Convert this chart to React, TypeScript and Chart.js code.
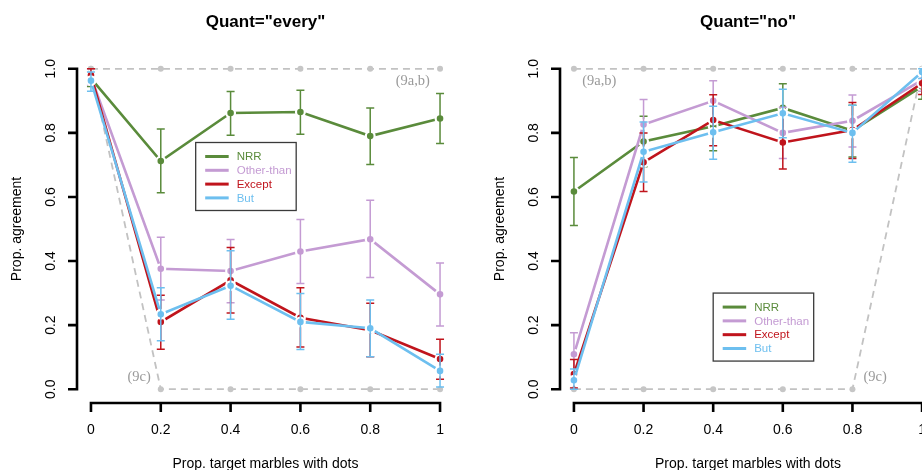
import React, { useEffect, useRef } from "react";
import { Chart, registerables } from "chart.js";
Chart.register(...registerables);

// ---------- data ----------
const xValues = [0, 0.2, 0.4, 0.6, 0.8, 1];
const xTickLabels = ["0", "0.2", "0.4", "0.6", "0.8", "1"];
const yTickValues = [0, 0.2, 0.4, 0.6, 0.8, 1];
const yTickLabels = ["0.0", "0.2", "0.4", "0.6", "0.8", "1.0"];

const seriesNames = ["NRR", "Other-than", "Except", "But"];
const seriesColors = ["#5a8b3b", "#c49bd3", "#c0141c", "#6dbfef"];

// Quant = "every"
const everyNRR = [0.97, 0.712, 0.862, 0.865, 0.79, 0.845];
const everyNRRLow = [0.945, 0.613, 0.793, 0.796, 0.701, 0.767];
const everyNRRHigh = [0.99, 0.812, 0.929, 0.933, 0.878, 0.923];
const everyOther = [0.975, 0.376, 0.369, 0.43, 0.468, 0.296];
const everyOtherLow = [0.95, 0.278, 0.27, 0.33, 0.349, 0.197];
const everyOtherHigh = [1.0, 0.474, 0.467, 0.53, 0.59, 0.394];
const everyExcept = [0.98, 0.21, 0.34, 0.223, 0.184, 0.094];
const everyExceptLow = [0.955, 0.125, 0.238, 0.132, 0.101, 0.031];
const everyExceptHigh = [1.0, 0.293, 0.442, 0.317, 0.268, 0.156];
const everyBut = [0.963, 0.234, 0.323, 0.21, 0.19, 0.057];
const everyButLow = [0.93, 0.151, 0.218, 0.124, 0.101, 0.007];
const everyButHigh = [0.99, 0.317, 0.432, 0.299, 0.278, 0.109];
const every9ab = [1, 1, 1, 1, 1, 1];
const every9c = [1, 0, 0, 0, 0, 0];

// Quant = "no"
const noNRR = [0.617, 0.773, 0.821, 0.878, 0.807, 0.945];
const noNRRLow = [0.511, 0.694, 0.744, 0.803, 0.725, 0.905];
const noNRRHigh = [0.723, 0.852, 0.898, 0.953, 0.886, 0.985];
const noOther = [0.109, 0.826, 0.9, 0.8, 0.838, 0.965];
const noOtherLow = [0.04, 0.748, 0.838, 0.72, 0.756, 0.93];
const noOtherHigh = [0.176, 0.904, 0.963, 0.88, 0.918, 1.0];
const noExcept = [0.047, 0.708, 0.84, 0.77, 0.809, 0.955];
const noExceptLow = [0.004, 0.617, 0.76, 0.687, 0.72, 0.92];
const noExceptHigh = [0.093, 0.8, 0.919, 0.853, 0.895, 0.99];
const noBut = [0.028, 0.741, 0.802, 0.861, 0.8, 0.99];
const noButLow = [0.0, 0.647, 0.718, 0.785, 0.708, 0.97];
const noButHigh = [0.063, 0.834, 0.883, 0.936, 0.886, 1.0];
const no9ab = [1, 1, 1, 1, 1, 1];
const no9c = [0, 0, 0, 0, 0, 1];

const refLabels = ["(9a,b)", "(9c)"];

const SANS = "'Liberation Sans', Arial, Helvetica, sans-serif";
const SERIF = "'Liberation Serif', 'Times New Roman', serif";

type PanelCfg = {
  title: string;
  series: number[][];
  lows: number[][];
  highs: number[][];
  refs: number[][];
  legendAt: [number, number];
  notesAt: [number, number][];
  left: number;
  width: number;
  padding: { left: number; right: number; top: number; bottom: number };
};

const panels: PanelCfg[] = [
  {
    title: 'Quant="every"',
    series: [everyNRR, everyOther, everyExcept, everyBut],
    lows: [everyNRRLow, everyOtherLow, everyExceptLow, everyButLow],
    highs: [everyNRRHigh, everyOtherHigh, everyExceptHigh, everyButHigh],
    refs: [every9ab, every9c],
    legendAt: [0.3, 0.77],
    notesAt: [
      [0.922, 0.962],
      [0.138, 0.037],
    ],
    left: 0,
    width: 461,
    padding: { left: 77, right: 7, top: 56, bottom: 68 },
  },
  {
    title: 'Quant="no"',
    series: [noNRR, noOther, noExcept, noBut],
    lows: [noNRRLow, noOtherLow, noExceptLow, noButLow],
    highs: [noNRRHigh, noOtherHigh, noExceptHigh, noButHigh],
    refs: [no9ab, no9c],
    legendAt: [0.4, 0.3],
    notesAt: [
      [0.073, 0.962],
      [0.865, 0.037],
    ],
    left: 461,
    width: 490,
    padding: { left: 99, right: 15, top: 56, bottom: 68 },
  },
];

function Panel({ cfg }: { cfg: PanelCfg }) {
  const ref = useRef<HTMLCanvasElement | null>(null);
  useEffect(() => {
    const canvas = ref.current;
    if (!canvas) return;

    const datasets: any[] = [];
    cfg.series.forEach((vals, si) => {
      datasets.push({
        label: seriesNames[si],
        data: xValues.map((x, i) => ({ x, y: vals[i] })),
        errLow: cfg.lows[si],
        errHigh: cfg.highs[si],
        borderColor: seriesColors[si],
        backgroundColor: seriesColors[si],
        borderWidth: 2.6,
        pointRadius: 4.4,
        pointBackgroundColor: seriesColors[si],
        pointBorderColor: "#ffffff",
        pointBorderWidth: 2.2,
        tension: 0,
        order: 4 - si,
      });
    });
    cfg.refs.forEach((vals, ri) => {
      datasets.push({
        label: refLabels[ri],
        data: xValues.map((x, i) => ({ x, y: vals[i] })),
        borderColor: "#c2c2c2",
        borderWidth: 1.8,
        borderDash: [7, 5],
        pointRadius: 3,
        pointBackgroundColor: "#c6c6c6",
        pointBorderWidth: 0,
        tension: 0,
        order: 10 + ri,
      });
    });

    const rPlugin = {
      id: "rstyle",
      afterDatasetDraw(chart: any, args: any) {
        const ds = chart.data.datasets[args.index];
        if (!ds.errLow) return;
        const ctx = chart.ctx;
        const xs = chart.scales.x;
        const ys = chart.scales.y;
        ctx.save();
        ctx.strokeStyle = ds.borderColor;
        ctx.lineWidth = 1.5;
        ds.data.forEach((p: any, i: number) => {
          const px = xs.getPixelForValue(p.x);
          const y1 = ys.getPixelForValue(ds.errLow[i]);
          const y2 = ys.getPixelForValue(ds.errHigh[i]);
          ctx.beginPath();
          ctx.moveTo(px, y1);
          ctx.lineTo(px, y2);
          ctx.moveTo(px - 4, y1);
          ctx.lineTo(px + 4, y1);
          ctx.moveTo(px - 4, y2);
          ctx.lineTo(px + 4, y2);
          ctx.stroke();
        });
        ctx.restore();
      },
      afterDraw(chart: any) {
        const ctx = chart.ctx;
        const xs = chart.scales.x;
        const ys = chart.scales.y;
        const area = chart.chartArea;
        ctx.save();
        // axes
        ctx.strokeStyle = "#000";
        ctx.lineWidth = 2.6;
        ctx.lineCap = "butt";
        const ax = area.left;
        const ay = area.bottom + 1;
        ctx.beginPath();
        ctx.moveTo(ax, ys.getPixelForValue(yTickValues[0]));
        ctx.lineTo(ax, ys.getPixelForValue(yTickValues[yTickValues.length - 1]));
        yTickValues.forEach((v) => {
          const py = ys.getPixelForValue(v);
          ctx.moveTo(ax + 1.3, py);
          ctx.lineTo(ax - 9, py);
        });
        ctx.moveTo(xs.getPixelForValue(xValues[0]), ay);
        ctx.lineTo(xs.getPixelForValue(xValues[xValues.length - 1]), ay);
        xValues.forEach((v) => {
          const px = xs.getPixelForValue(v);
          ctx.moveTo(px, ay - 1.3);
          ctx.lineTo(px, ay + 9);
        });
        ctx.stroke();

        // tick labels
        ctx.fillStyle = "#000";
        ctx.font = `14px ${SANS}`;
        ctx.textAlign = "center";
        ctx.textBaseline = "middle";
        xValues.forEach((v, i) => {
          ctx.fillText(xTickLabels[i], xs.getPixelForValue(v), ay + 27);
        });
        yTickValues.forEach((v, i) => {
          ctx.save();
          ctx.translate(ax - 25.5, ys.getPixelForValue(v));
          ctx.rotate(-Math.PI / 2);
          ctx.fillText(yTickLabels[i], 0, 0);
          ctx.restore();
        });
        // axis titles
        ctx.fillText("Prop. target marbles with dots", (area.left + area.right) / 2, ay + 61);
        ctx.save();
        ctx.translate(ax - 60, (area.top + area.bottom) / 2);
        ctx.rotate(-Math.PI / 2);
        ctx.fillText("Prop. agreement", 0, 0);
        ctx.restore();
        // main title
        ctx.font = `bold 17px ${SANS}`;
        ctx.fillText(cfg.title, (area.left + area.right) / 2, 22);

        // reference annotations
        ctx.font = `14.5px ${SERIF}`;
        ctx.fillStyle = "#9a9a9a";
        cfg.notesAt.forEach((p, i) => {
          ctx.fillText(refLabels[i], xs.getPixelForValue(p[0]), ys.getPixelForValue(p[1]));
        });

        // legend
        const lx = xs.getPixelForValue(cfg.legendAt[0]);
        const ly = ys.getPixelForValue(cfg.legendAt[1]);
        const lw = 100.5;
        const lh = 68;
        ctx.fillStyle = "#fff";
        ctx.fillRect(lx, ly, lw, lh);
        ctx.strokeStyle = "#3a3a3a";
        ctx.lineWidth = 1.3;
        ctx.strokeRect(lx, ly, lw, lh);
        ctx.font = `11.5px ${SANS}`;
        ctx.textAlign = "left";
        seriesNames.forEach((name, i) => {
          const ry = ly + 14 + i * 13.8;
          ctx.strokeStyle = seriesColors[i];
          ctx.lineWidth = 3;
          ctx.beginPath();
          ctx.moveTo(lx + 9.5, ry);
          ctx.lineTo(lx + 33, ry);
          ctx.stroke();
          ctx.fillStyle = seriesColors[i];
          ctx.fillText(name, lx + 41, ry + 0.5);
        });
        ctx.restore();
      },
    };

    const chart = new Chart(canvas, {
      type: "line",
      data: { datasets },
      options: {
        animation: false,
        responsive: false,
        devicePixelRatio: 1,
        layout: { padding: cfg.padding },
        plugins: { legend: { display: false }, tooltip: { enabled: false } },
        scales: {
          x: { type: "linear", min: -0.04, max: 1.04, display: false },
          y: { type: "linear", min: -0.04, max: 1.04, display: false },
        },
      },
      plugins: [rPlugin],
    } as any);
    return () => chart.destroy();
  }, [cfg]);
  return (
    <canvas
      ref={ref}
      width={cfg.width}
      height={470}
      style={{ position: "absolute", left: cfg.left, top: 0, width: cfg.width, height: 470 }}
    />
  );
}

export default function App() {
  return (
    <div
      style={{
        position: "fixed",
        left: 0,
        top: 0,
        width: 922,
        height: 470,
        overflow: "hidden",
        background: "#fff",
      }}
    >
      {panels.map((p, i) => (
        <Panel key={i} cfg={p} />
      ))}
    </div>
  );
}
